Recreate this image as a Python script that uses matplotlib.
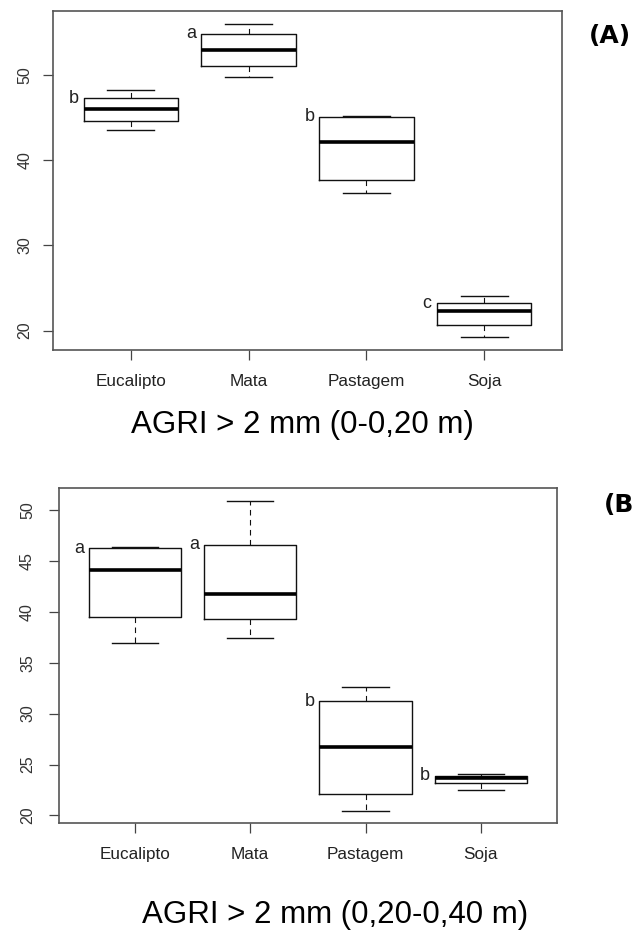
import matplotlib
matplotlib.use('Agg')
import matplotlib.pyplot as plt

grupos = ['Eucalipto', 'Mata', 'Pastagem', 'Soja']

# AGRI > 2 mm, camada 0-0,20 m
min_a = [43.5, 49.8, 36.2, 19.2]
q1_a = [44.6, 51.1, 37.65, 20.7]
med_a = [46.05, 53.0, 42.2, 22.3]
q3_a = [47.3, 54.85, 45.1, 23.2]
max_a = [48.2, 56.05, 45.2, 24.05]
letras_a = ['b', 'a', 'b', 'c']

# AGRI > 2 mm, camada 0,20-0,40 m
min_b = [36.9, 37.45, 20.45, 22.55]
q1_b = [39.45, 39.3, 22.15, 23.15]
med_b = [44.05, 41.75, 26.75, 23.7]
q3_b = [46.25, 46.6, 31.2, 23.9]
max_b = [46.35, 50.9, 32.6, 24.05]
letras_b = ['a', 'a', 'b', 'b']

plt.rcParams['font.family'] = ['Liberation Sans', 'DejaVu Sans']


def painel(ax, mins, q1s, meds, q3s, maxs, letras, yticks, ypad):
    pos = [1, 2, 3, 4]
    stats = []
    for i in range(4):
        stats.append({'whislo': mins[i], 'q1': q1s[i], 'med': meds[i],
                      'q3': q3s[i], 'whishi': maxs[i], 'fliers': []})
    ax.bxp(stats, positions=pos, widths=0.8, capwidths=0.4, showfliers=False,
           boxprops=dict(color='#111111', linewidth=1.0),
           medianprops=dict(color='black', linewidth=2.6, solid_capstyle='butt'),
           whiskerprops=dict(color='#111111', linewidth=0.8, linestyle=(0, (5, 4))),
           capprops=dict(color='#111111', linewidth=1.0))
    lo = min(mins)
    hi = max(maxs)
    pad = 0.04 * (hi - lo)
    ax.set_ylim(lo - pad, hi + pad)
    ax.set_xlim(0.34, 4.66)

    for i in range(4):
        ax.text(pos[i] - 0.485, q3s[i], letras[i], ha='center', va='center',
                fontsize=13, color='#222222')

    ax.set_xticks(pos)
    ax.set_xticklabels(grupos, fontsize=12.3, color='#222222')
    ax.set_yticks(yticks)
    ax.tick_params(axis='x', length=7, width=0.9, color='#444444', pad=10)
    ax.tick_params(axis='y', length=7, width=0.9, color='#444444', pad=ypad,
                   labelsize=11.5, labelcolor='#333333', labelrotation=90)
    for lbl in ax.get_yticklabels():
        lbl.set_verticalalignment('center')
        lbl.set_horizontalalignment('right')
    for s in ax.spines.values():
        s.set_color('#555555')
        s.set_linewidth(1.2)


fig = plt.figure(figsize=(6.35, 9.34), dpi=100)
ax1 = fig.add_axes([0.0835, 0.6253, 0.8016, 0.3629])
ax2 = fig.add_axes([0.0924, 0.1185, 0.7848, 0.3587])

painel(ax1, min_a, q1_a, med_a, q3_a, max_a, letras_a, [20, 30, 40, 50], 8)
painel(ax2, min_b, q1_b, med_b, q3_b, max_b, letras_b, [20, 25, 30, 35, 40, 45, 50], 10)

fig.text(0.476, 0.545, 'AGRI > 2 mm (0-0,20 m)', ha='center', va='center', fontsize=22.5)
fig.text(0.528, 0.0203, 'AGRI > 2 mm (0,20-0,40 m)', ha='center', va='center', fontsize=22.5)

fig.text(0.9606, 0.9615, '(A)', ha='center', va='center', fontsize=18,
         fontweight='bold', family='DejaVu Sans')
fig.text(0.951, 0.4593, '(B', ha='left', va='center', fontsize=18,
         fontweight='bold', family='DejaVu Sans')

fig.savefig('out.png', dpi=100)
